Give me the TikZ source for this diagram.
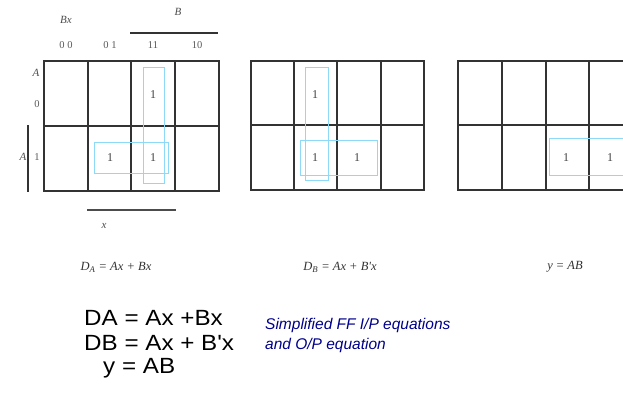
\documentclass[tikz,border=0pt]{standalone}
\usepackage{fontspec}
\setmainfont{Liberation Serif}
\setsansfont{Liberation Sans}
\begin{document}
\begin{tikzpicture}[x=1pt,y=-1pt,
  grid/.style={draw=black!80,line width=1.3pt},
  loop/.style={draw=cyan!45,line width=0.9pt},
  one/.style={font=\fontsize{12}{14}\selectfont,text=black!75,inner sep=0pt},
  lab/.style={font=\fontsize{11}{13}\selectfont\itshape,text=black!70,inner sep=0pt},
  dig/.style={font=\fontsize{10.5}{13}\selectfont,text=black!65,inner sep=0pt},
  eq/.style={font=\fontsize{12.5}{14}\selectfont\itshape,text=black!80,inner sep=0pt},
  big/.style={font=\sffamily\fontsize{22}{26}\selectfont,text=black,inner sep=0pt,anchor=west,xscale=1.1,transform shape},
  note/.style={font=\sffamily\itshape\fontsize{15.5}{18}\selectfont,text=blue!55!black,inner sep=0pt,anchor=west}]
\clip (0,0) rectangle (623,400);
\fill[white] (0,0) rectangle (623,400);
% ---------- map 1 ----------
\draw[grid] (44,61) rectangle (219,191);
\draw[grid] (44,126) -- (219,126);
\foreach \c in {88,131,175} \draw[grid] (\c,61) -- (\c,191);
\draw[loop] (143,67) rectangle (164,183);
\draw[loop] (94,142) rectangle (168,173);
\node[one] (a1) at (153,95) {1};
\node[one] (a2) at (110,158) {1};
\node[one] (a3) at (153,158) {1};
\node[lab] (bx) at (66,20) {Bx};
\node[lab] (bb) at (178,12) {B};
\draw[line width=1.4pt,black!80] (130,33) -- (218,33);
\node[dig] (c00) at (66,45) {0 0};
\node[dig] (c01) at (110,45) {0 1};
\node[dig] (c11) at (153,45) {11};
\node[dig] (c10) at (197,45) {10};
\node[lab] (ra) at (36,73) {A};
\node[dig] (r0) at (37,104) {0};
\node[dig] (r1) at (37,157) {1};
\node[lab] (ra2) at (23,157) {A};
\draw[line width=1.4pt,black!80] (28,125) -- (28,192);
\draw[line width=1.2pt,black!70] (87,210) -- (176,210);
\node[lab] (xl) at (104,226) {x};
% ---------- map 2 ----------
\draw[grid] (251,61) rectangle (424,190);
\draw[grid] (251,125) -- (424,125);
\foreach \c in {294,337,381} \draw[grid] (\c,61) -- (\c,190);
\draw[loop] (305,67) rectangle (328,180);
\draw[loop] (300,140) rectangle (377,175);
\node[one] (b1) at (315,95) {1};
\node[one] (b2) at (315,158) {1};
\node[one] (b3) at (357,158) {1};
% ---------- map 3 ----------
\draw[grid] (458,61) rectangle (632,190);
\draw[grid] (458,125) -- (632,125);
\foreach \c in {502,546,589} \draw[grid] (\c,61) -- (\c,190);
\draw[loop] (549,138) rectangle (640,175);
\node[one] (d1) at (566,158) {1};
\node[one] (d2) at (610,158) {1};
% ---------- equations ----------
\node[eq] (e1) at (116,267) {D\textsubscript{A} = Ax + Bx};
\node[eq] (e2) at (340,267) {D\textsubscript{B} = Ax + B\textquotesingle x};
\node[eq] (e3) at (565,267) {y = AB};
\node[big] (f1) at (84,318) {DA = Ax +Bx};
\node[big] (f2) at (84,343) {DB = Ax + B\textquotesingle x};
\node[big] (f3) at (103,368) {y = AB};
\node[note] (n1) at (265,325) {Simplified FF I/P equations};
\node[note] (n2) at (265,345) {and O/P equation};
\end{tikzpicture}
\end{document}
